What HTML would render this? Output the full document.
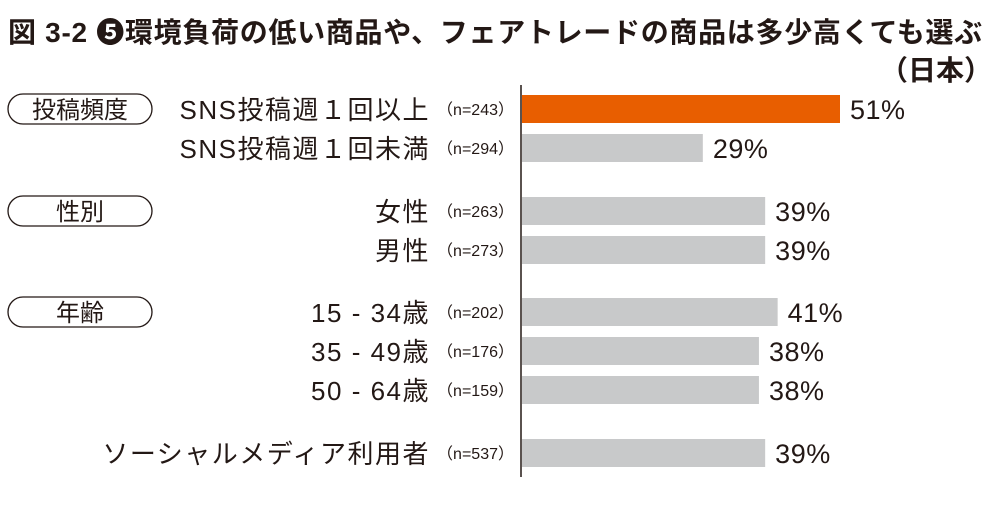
<!DOCTYPE html>
<html><head><meta charset="utf-8"><style>
body{margin:0;background:#fff;width:1000px;height:505px;overflow:hidden;font-family:"Liberation Sans","Noto Sans CJK JP",sans-serif;color:#231815}
</style></head><body>
<svg width="1000" height="505" style="font-family:'Liberation Sans','Noto Sans CJK JP',sans-serif">
<text x="8" y="42" font-size="28" font-weight="bold" letter-spacing="0.7" fill="#231815">図 3-2 ❺環境負荷の低い商品や、フェアトレードの商品は多少高くても選ぶ</text>
<text x="992" y="80" font-size="28" font-weight="bold" text-anchor="end" fill="#231815">（日本）</text>
<g id="pills"></g>
<g id="bars"></g>
<line x1="521" y1="85" x2="521" y2="477" stroke="#231815" stroke-width="1.5"/>
</svg>
<script>
const categories=["SNS投稿週１回以上","SNS投稿週１回未満","女性","男性","15 - 34歳","35 - 49歳","50 - 64歳","ソーシャルメディア利用者"];
const sampleSizes=["（n=243）","（n=294）","（n=263）","（n=273）","（n=202）","（n=176）","（n=159）","（n=537）"];
const values=[51,29,39,39,41,38,38,39];
const highlight=[true,false,false,false,false,false,false,false];
const groups=["投稿頻度","性別","年齢"];
const groupStart=[0,2,4];
const ns="http://www.w3.org/2000/svg";
const rowTops=[95,134,197,236,298,337,376,439];
const x0=522, pxPer=(840-522)/51, barH=28;
function xs(v){return x0+v*pxPer;}
const gb=document.getElementById('bars');
values.forEach((v,i)=>{
  const y=rowTops[i];
  const r=document.createElementNS(ns,'rect');
  r.setAttribute('x',x0);r.setAttribute('y',y);r.setAttribute('width',xs(v)-x0);r.setAttribute('height',barH);
  r.setAttribute('fill',highlight[i]?'#e85e00':'#c8c9ca');
  
  
  gb.appendChild(r);
  const t=document.createElementNS(ns,'text');
  t.setAttribute('x',xs(v)+10);t.setAttribute('y',y+barH/2+10);t.setAttribute('font-size','27');t.setAttribute('letter-spacing','0.5');t.setAttribute('fill','#231815');
  t.textContent=v+'%';
  
  
  gb.appendChild(t);
  const c=document.createElementNS(ns,'text');
  c.setAttribute('x',430);c.setAttribute('y',y+barH/2+10);c.setAttribute('font-size','26');c.setAttribute('letter-spacing','1.5');c.setAttribute('text-anchor','end');c.setAttribute('fill','#231815');
  c.textContent=categories[i];
  
  
  gb.appendChild(c);
  const n=document.createElementNS(ns,'text');
  n.setAttribute('x',514);n.setAttribute('y',y+barH/2+6);n.setAttribute('font-size','16');n.setAttribute('text-anchor','end');n.setAttribute('fill','#231815');
  n.textContent=sampleSizes[i];
  
  
  gb.appendChild(n);
});
const gp=document.getElementById('pills');
groups.forEach((g,k)=>{
  const y=rowTops[groupStart[k]];
  const r=document.createElementNS(ns,'rect');
  r.setAttribute('x',8);r.setAttribute('y',y-1);r.setAttribute('width',144);r.setAttribute('height',30);r.setAttribute('rx',15);
  r.setAttribute('fill','#fff');r.setAttribute('stroke','#231815');r.setAttribute('stroke-width','1.3');
  
  
  gp.appendChild(r);
  const t=document.createElementNS(ns,'text');
  t.setAttribute('x',80);t.setAttribute('y',y+23);t.setAttribute('font-size','24');t.setAttribute('text-anchor','middle');t.setAttribute('fill','#231815');
  t.textContent=g;
  
  
  gp.appendChild(t);
});
</script>
</body></html>
